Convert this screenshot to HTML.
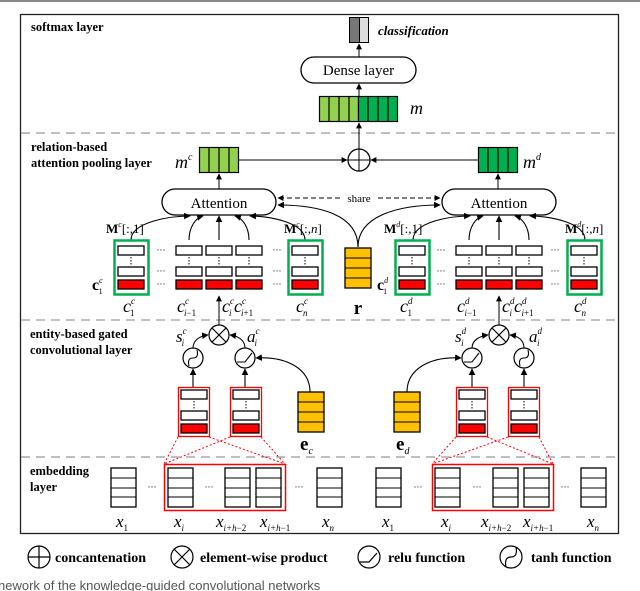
<!DOCTYPE html>
<html><head><meta charset="utf-8"><style>
body{margin:0;background:#fff;width:640px;height:591px;overflow:hidden}
svg{display:block}
text{font-family:"Liberation Serif",serif}
.b{font-weight:bold;font-size:12.5px}
.i{font-style:italic}
</style></head><body>
<svg width="640" height="591" viewBox="0 0 640 591" xmlns="http://www.w3.org/2000/svg">
<defs>
<marker id="a" viewBox="0 0 10 10" refX="9" refY="5" markerWidth="6" markerHeight="6" orient="auto"><path d="M0,0L10,5L0,10z" fill="#000"/></marker>
<g id="ccol"><rect x="0" y="6" width="26" height="9" fill="#fff" stroke="#000" stroke-width="1.3"/><line x1="13" y1="17" x2="13" y2="25" stroke="#000" stroke-dasharray="1.5,1.5"/><rect x="0" y="27" width="26" height="9" fill="#fff" stroke="#000" stroke-width="1.3"/><rect x="0" y="40" width="26" height="9" fill="#f00" stroke="#000" stroke-width="1.3"/></g>
<g id="emb"><rect x="0" y="0" width="25" height="39" fill="#fff" stroke="#000" stroke-width="1.3"/><line x1="0" y1="10" x2="25" y2="10" stroke="#000"/><line x1="0" y1="20" x2="25" y2="20" stroke="#000"/><line x1="0" y1="29" x2="25" y2="29" stroke="#000"/></g>
<g id="yel"><rect x="0" y="0" width="26" height="40" fill="#ffc000" stroke="#000" stroke-width="1.3"/><line x1="0" y1="10" x2="26" y2="10" stroke="#000"/><line x1="0" y1="20" x2="26" y2="20" stroke="#000"/><line x1="0" y1="30" x2="26" y2="30" stroke="#000"/></g>
</defs>
<rect x="0" y="0" width="640" height="2" fill="#888"/>
<rect x="20.5" y="14.5" width="598" height="519" fill="none" stroke="#222" stroke-width="1.3"/>
<g stroke="#999" stroke-width="1.2" stroke-dasharray="9,6"><line x1="21" y1="133" x2="618" y2="133"/><line x1="21" y1="320" x2="618" y2="320"/><line x1="21" y1="457" x2="618" y2="457"/></g>

<text class="b" x="31" y="31">softmax layer</text>
<text class="b" x="31" y="151">relation-based</text>
<text class="b" x="31" y="167">attention pooling layer</text>
<text class="b" x="30" y="338">entity-based gated</text>
<text class="b" x="30" y="354">convolutional layer</text>
<text class="b" x="30" y="475">embedding</text>
<text class="b" x="30" y="491">layer</text>

<rect x="349.5" y="17.5" width="10" height="25" fill="#777" stroke="#000"/>
<rect x="359.5" y="17.5" width="9" height="25" fill="#ddd" stroke="#000"/>
<text x="378" y="35" class="i" font-weight="bold" font-size="13">classification</text>
<line x1="359" y1="57" x2="359" y2="44" stroke="#000" marker-end="url(#a)"/>
<rect x="301" y="57" width="115" height="26" rx="13" fill="#fff" stroke="#000" stroke-width="1.3"/>
<text x="358.5" y="75" text-anchor="middle" font-size="15">Dense layer</text>
<line x1="359" y1="96" x2="359" y2="84" stroke="#000" marker-end="url(#a)"/>
<g stroke="#000" stroke-width="1.2">
<rect x="319.5" y="96.5" width="39" height="25" fill="#92d050"/><rect x="358.5" y="96.5" width="39" height="25" fill="#00b050"/>
<line x1="329" y1="96" x2="329" y2="122"/><line x1="339" y1="96" x2="339" y2="122"/><line x1="349" y1="96" x2="349" y2="122"/><line x1="368" y1="96" x2="368" y2="122"/><line x1="378" y1="96" x2="378" y2="122"/><line x1="388" y1="96" x2="388" y2="122"/>
<rect x="199.5" y="147.5" width="39" height="25" fill="#92d050"/><line x1="209" y1="147" x2="209" y2="173"/><line x1="219" y1="147" x2="219" y2="173"/><line x1="229" y1="147" x2="229" y2="173"/>
<rect x="478.5" y="147.5" width="39" height="25" fill="#00b050"/><line x1="488" y1="147" x2="488" y2="173"/><line x1="498" y1="147" x2="498" y2="173"/><line x1="508" y1="147" x2="508" y2="173"/>
</g>
<text x="410" y="114" class="i" font-size="18">m</text>
<text x="175" y="168" class="i" font-size="18">m<tspan font-size="10" dy="-8">c</tspan></text>
<text x="523" y="168" class="i" font-size="18">m<tspan font-size="10" dy="-8">d</tspan></text>
<line x1="359" y1="149" x2="359" y2="123" stroke="#000" marker-end="url(#a)"/>
<circle cx="359" cy="160" r="11" fill="#fff" stroke="#000" stroke-width="1.3"/>
<line x1="348" y1="160" x2="370" y2="160" stroke="#000"/><line x1="359" y1="149" x2="359" y2="171" stroke="#000"/>
<line x1="238" y1="160" x2="347" y2="160" stroke="#000" marker-end="url(#a)"/>
<line x1="478" y1="160" x2="371" y2="160" stroke="#000" marker-end="url(#a)"/>
<line x1="219" y1="189" x2="219" y2="174" stroke="#000" marker-end="url(#a)"/>
<line x1="498" y1="189" x2="498" y2="174" stroke="#000" marker-end="url(#a)"/>

<rect x="162" y="189" width="114" height="26" rx="13" fill="#fff" stroke="#000" stroke-width="1.3"/>
<text x="219" y="208" text-anchor="middle" font-size="15">Attention</text>
<rect x="442" y="189" width="114" height="26" rx="13" fill="#fff" stroke="#000" stroke-width="1.3"/>
<text x="499" y="208" text-anchor="middle" font-size="15">Attention</text>
<line x1="340" y1="198" x2="278" y2="198" stroke="#000" stroke-dasharray="5,3" marker-end="url(#a)"/>
<line x1="378" y1="198" x2="440" y2="198" stroke="#000" stroke-dasharray="5,3" marker-end="url(#a)"/>
<text x="359" y="202" text-anchor="middle" font-size="11">share</text>
<g fill="none" stroke="#000" stroke-width="1.1">
<path d="M131,240 C131,222 170,216 190,216" marker-end="url(#a)"/>
<path d="M189,240 C189,228 195,218 203,216" marker-end="url(#a)"/>
<path d="M219,240 L219,216" marker-end="url(#a)"/>
<path d="M249,240 C249,228 243,218 235,216" marker-end="url(#a)"/>
<path d="M305,240 C305,222 268,216 250,216" marker-end="url(#a)"/>
<path d="M413,240 C413,222 450,216 470,216" marker-end="url(#a)"/>
<path d="M469,240 C469,228 475,218 483,216" marker-end="url(#a)"/>
<path d="M499,240 L499,216" marker-end="url(#a)"/>
<path d="M529,240 C529,228 523,218 515,216" marker-end="url(#a)"/>
<path d="M585,240 C585,222 548,216 530,216" marker-end="url(#a)"/>
<path d="M358,247 C358,215 320,205 278,205" marker-end="url(#a)"/>
<path d="M358,247 C358,215 400,205 440,205" marker-end="url(#a)"/>
</g>
<text x="106" y="233" font-size="13"><tspan font-weight="bold">M</tspan><tspan font-size="8" dy="-6" class="i">c</tspan><tspan dy="6">[:,1]</tspan></text>
<text x="284" y="233" font-size="13"><tspan font-weight="bold">M</tspan><tspan font-size="8" dy="-6" class="i">c</tspan><tspan dy="6">[:,</tspan><tspan class="i">n</tspan>]</text>
<text x="384" y="233" font-size="13"><tspan font-weight="bold">M</tspan><tspan font-size="8" dy="-6" class="i">d</tspan><tspan dy="6">[:,1]</tspan></text>
<text x="565" y="233" font-size="13"><tspan font-weight="bold">M</tspan><tspan font-size="8" dy="-6" class="i">d</tspan><tspan dy="6">[:,</tspan><tspan class="i">n</tspan>]</text>

<rect x="114.5" y="240.5" width="34" height="54" fill="none" stroke="#00b050" stroke-width="2.5"/>
<rect x="288.5" y="240.5" width="34" height="54" fill="none" stroke="#00b050" stroke-width="2.5"/>
<rect x="395.5" y="240.5" width="34" height="54" fill="none" stroke="#00b050" stroke-width="2.5"/>
<rect x="567.5" y="240.5" width="34" height="54" fill="none" stroke="#00b050" stroke-width="2.5"/>
<use href="#ccol" x="118" y="240"/><use href="#ccol" x="176" y="240"/><use href="#ccol" x="206" y="240"/><use href="#ccol" x="236" y="240"/><use href="#ccol" x="292" y="240"/>
<use href="#ccol" x="399" y="240"/><use href="#ccol" x="456" y="240"/><use href="#ccol" x="486" y="240"/><use href="#ccol" x="516" y="240"/><use href="#ccol" x="571" y="240"/>
<g font-size="9" text-anchor="middle"><text x="161" y="253">···</text><text x="161" y="274">···</text><text x="161" y="287">···</text>
<text x="277" y="253">···</text><text x="277" y="274">···</text><text x="277" y="287">···</text>
<text x="441" y="253">···</text><text x="441" y="274">···</text><text x="441" y="287">···</text>
<text x="555" y="253">···</text><text x="555" y="274">···</text><text x="555" y="287">···</text></g>
<use href="#yel" x="345" y="248"/><line x1="345" y1="278" x2="371" y2="278" stroke="#000"/>
<text x="358" y="314" text-anchor="middle" font-weight="bold" font-size="19">r</text>
<text x="92" y="290" font-weight="bold" font-size="16">c<tspan font-size="8" dy="-7" class="i" font-weight="normal">c</tspan><tspan font-size="8" dx="-4" dy="11" font-weight="normal">1</tspan></text>
<text x="377" y="290" font-weight="bold" font-size="16">c<tspan font-size="8" dy="-7" class="i" font-weight="normal">d</tspan><tspan font-size="8" dx="-5" dy="11" font-weight="normal">1</tspan></text>
<g class="i" font-size="18">
<text x="123" y="312">c<tspan font-size="9" dy="-8">c</tspan><tspan font-size="9" dx="-5" dy="12" font-style="normal">1</tspan></text>
<text x="177" y="312">c<tspan font-size="9" dy="-8">c</tspan><tspan font-size="9" dx="-5" dy="12">i</tspan><tspan font-size="9" font-style="normal">−1</tspan></text>
<text x="222" y="312">c<tspan font-size="9" dy="-8">c</tspan><tspan font-size="9" dx="-5" dy="12">i</tspan></text>
<text x="234" y="312">c<tspan font-size="9" dy="-8">c</tspan><tspan font-size="9" dx="-5" dy="12">i</tspan><tspan font-size="9" font-style="normal">+1</tspan></text>
<text x="296" y="312">c<tspan font-size="9" dy="-8">c</tspan><tspan font-size="9" dx="-5" dy="12">n</tspan></text>
<text x="400" y="312">c<tspan font-size="9" dy="-8">d</tspan><tspan font-size="9" dx="-5" dy="12" font-style="normal">1</tspan></text>
<text x="457" y="312">c<tspan font-size="9" dy="-8">d</tspan><tspan font-size="9" dx="-5" dy="12">i</tspan><tspan font-size="9" font-style="normal">−1</tspan></text>
<text x="502" y="312">c<tspan font-size="9" dy="-8">d</tspan><tspan font-size="9" dx="-5" dy="12">i</tspan></text>
<text x="514" y="312">c<tspan font-size="9" dy="-8">d</tspan><tspan font-size="9" dx="-5" dy="12">i</tspan><tspan font-size="9" font-style="normal">+1</tspan></text>
<text x="574" y="312">c<tspan font-size="9" dy="-8">d</tspan><tspan font-size="9" dx="-5" dy="12">n</tspan></text>
</g>

<line x1="219" y1="326" x2="219" y2="296" stroke="#000" marker-end="url(#a)"/>
<line x1="499" y1="326" x2="499" y2="296" stroke="#000" marker-end="url(#a)"/>
<g stroke="#000" stroke-width="1.2" fill="#fff">
<circle cx="219" cy="335" r="10"/><line x1="212" y1="328" x2="226" y2="342"/><line x1="226" y1="328" x2="212" y2="342"/>
<circle cx="499" cy="335" r="10"/><line x1="492" y1="328" x2="506" y2="342"/><line x1="506" y1="328" x2="492" y2="342"/>
<circle cx="193" cy="358" r="10"/><circle cx="245" cy="358" r="10"/><circle cx="472" cy="358" r="10"/><circle cx="524" cy="358" r="10"/>
</g>
<g fill="none" stroke="#000" stroke-width="1.1">
<path d="M189,366 Q187,358 193,358 Q199,358 197,350"/>
<path d="M520,366 Q518,358 524,358 Q530,358 528,350"/>
<path d="M237,362 L245,362 L252,353"/><path d="M464,362 L472,362 L479,353"/>
<path d="M193,348 C193,340 200,336 208,335" marker-end="url(#a)"/>
<path d="M245,348 C245,340 238,336 230,335" marker-end="url(#a)"/>
<path d="M472,348 C472,340 480,336 488,335" marker-end="url(#a)"/>
<path d="M524,348 C524,340 518,336 510,335" marker-end="url(#a)"/>
<path d="M193,387 L193,369" marker-end="url(#a)"/><path d="M245,387 L245,369" marker-end="url(#a)"/>
<path d="M472,387 L472,369" marker-end="url(#a)"/><path d="M524,387 L524,369" marker-end="url(#a)"/>
<path d="M310,392 C310,368 285,356 256,358" marker-end="url(#a)"/>
<path d="M407,392 C407,368 432,356 461,358" marker-end="url(#a)"/>
</g>
<g class="i" font-size="17">
<text x="176" y="342">s<tspan font-size="9" dy="-8">c</tspan><tspan font-size="9" dx="-5" dy="12">i</tspan></text>
<text x="247" y="342">a<tspan font-size="9" dy="-8">c</tspan><tspan font-size="9" dx="-5" dy="12">i</tspan></text>
<text x="455" y="342">s<tspan font-size="9" dy="-8">d</tspan><tspan font-size="9" dx="-5" dy="12">i</tspan></text>
<text x="529" y="342">a<tspan font-size="9" dy="-8">d</tspan><tspan font-size="9" dx="-5" dy="12">i</tspan></text>
</g>
<g fill="none" stroke="#f00" stroke-width="1.3">
<rect x="178.5" y="387.5" width="31" height="49"/><rect x="230.5" y="387.5" width="31" height="49"/>
<rect x="456.5" y="387.5" width="31" height="49"/><rect x="508.5" y="387.5" width="31" height="49"/>
</g>
<use href="#ccol" x="181" y="384"/><use href="#ccol" x="233" y="384"/><use href="#ccol" x="459" y="384"/><use href="#ccol" x="511" y="384"/>
<use href="#yel" x="298" y="392"/><use href="#yel" x="394" y="392"/>
<text x="300" y="450" font-weight="bold" font-size="19">e<tspan class="i" font-weight="normal" font-size="10" dy="4">c</tspan></text>
<text x="396" y="450" font-weight="bold" font-size="19">e<tspan class="i" font-weight="normal" font-size="10" dy="4">d</tspan></text>
<g stroke="#f00" stroke-width="1" stroke-dasharray="2,2">
<line x1="178" y1="437" x2="164" y2="464"/><line x1="209" y1="437" x2="285" y2="464"/>
<line x1="230" y1="437" x2="164" y2="464"/><line x1="261" y1="437" x2="285" y2="464"/>
<line x1="456" y1="437" x2="432" y2="464"/><line x1="487" y1="437" x2="553" y2="464"/>
<line x1="508" y1="437" x2="432" y2="464"/><line x1="539" y1="437" x2="553" y2="464"/>
</g>

<rect x="164.5" y="464.5" width="121" height="46" fill="none" stroke="#f00" stroke-width="1.5"/>
<rect x="432.5" y="464.5" width="121" height="46" fill="none" stroke="#f00" stroke-width="1.5"/>
<use href="#emb" x="111" y="468"/><use href="#emb" x="168" y="468"/><use href="#emb" x="225" y="468"/><use href="#emb" x="256" y="468"/><use href="#emb" x="317" y="468"/>
<use href="#emb" x="376" y="468"/><use href="#emb" x="435" y="468"/><use href="#emb" x="493" y="468"/><use href="#emb" x="524" y="468"/><use href="#emb" x="581" y="468"/>
<g font-size="9" text-anchor="middle"><text x="152" y="490">···</text><text x="209" y="490">···</text><text x="299" y="490">···</text><text x="418" y="490">···</text><text x="477" y="490">···</text><text x="565" y="490">···</text></g>
<g class="i" font-size="17">
<text x="116" y="527">x<tspan font-size="9" dy="4" font-style="normal">1</tspan></text>
<text x="174" y="527">x<tspan font-size="9" dy="4">i</tspan></text>
<text x="216" y="527">x<tspan font-size="9" dy="4">i+h</tspan><tspan font-size="9" font-style="normal">−2</tspan></text>
<text x="260" y="527">x<tspan font-size="9" dy="4">i+h</tspan><tspan font-size="9" font-style="normal">−1</tspan></text>
<text x="322" y="527">x<tspan font-size="9" dy="4">n</tspan></text>
<text x="382" y="527">x<tspan font-size="9" dy="4" font-style="normal">1</tspan></text>
<text x="441" y="527">x<tspan font-size="9" dy="4">i</tspan></text>
<text x="481" y="527">x<tspan font-size="9" dy="4">i+h</tspan><tspan font-size="9" font-style="normal">−2</tspan></text>
<text x="523" y="527">x<tspan font-size="9" dy="4">i+h</tspan><tspan font-size="9" font-style="normal">−1</tspan></text>
<text x="587" y="527">x<tspan font-size="9" dy="4">n</tspan></text>
</g>

<g stroke="#000" stroke-width="1.2" fill="none">
<circle cx="39" cy="557" r="11"/><line x1="28" y1="557" x2="50" y2="557"/><line x1="39" y1="546" x2="39" y2="568"/>
<circle cx="182" cy="557" r="11"/><line x1="174" y1="549" x2="190" y2="565"/><line x1="190" y1="549" x2="174" y2="565"/>
<circle cx="369" cy="557" r="11"/><path d="M360,562 L369,562 L377,553"/>
<circle cx="511" cy="557" r="11"/><path d="M506,567 Q504,557 511,557 Q518,557 516,547"/>
</g>
<g class="b" font-size="14"><text x="55" y="562" font-size="14">concantenation</text><text x="200" y="562" font-size="14">element-wise product</text><text x="388" y="562" font-size="14">relu function</text><text x="531" y="562" font-size="14">tanh function</text></g>
<text x="-2" y="590" font-size="13" fill="#555" style="font-family:'Liberation Sans',sans-serif">nework of the knowledge-guided convolutional networks</text>
</svg>
</body></html>
